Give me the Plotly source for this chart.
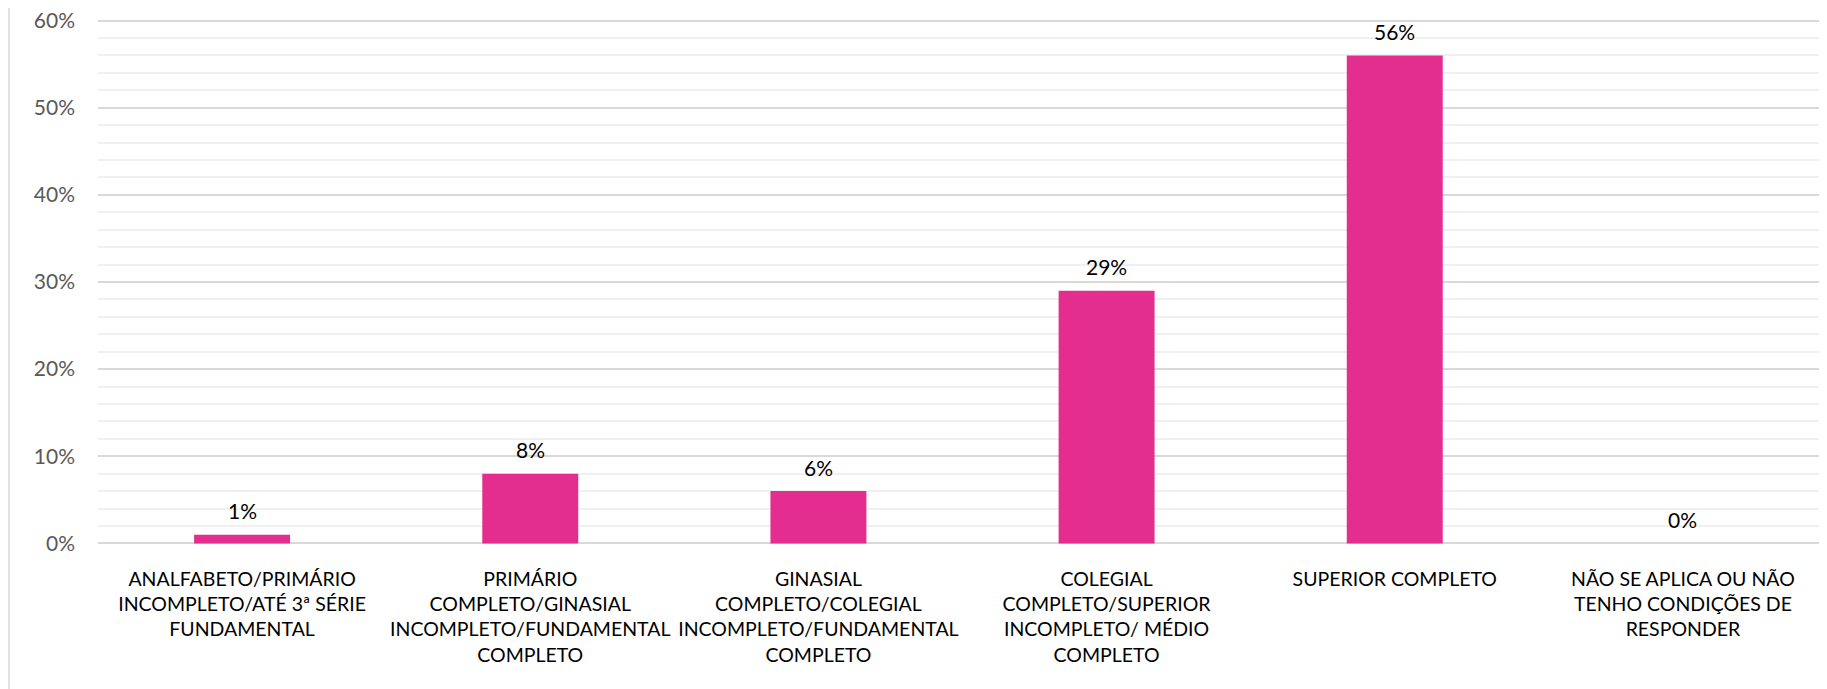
import plotly.graph_objects as go

categories = [
    "ANALFABETO/PRIMÁRIO<br>INCOMPLETO/ATÉ 3ª SÉRIE<br>FUNDAMENTAL",
    "PRIMÁRIO<br>COMPLETO/GINASIAL<br>INCOMPLETO/FUNDAMENTAL<br>COMPLETO",
    "GINASIAL<br>COMPLETO/COLEGIAL<br>INCOMPLETO/FUNDAMENTAL<br>COMPLETO",
    "COLEGIAL<br>COMPLETO/SUPERIOR<br>INCOMPLETO/ MÉDIO<br>COMPLETO",
    "SUPERIOR COMPLETO",
    "NÃO SE APLICA OU NÃO<br>TENHO CONDIÇÕES DE<br>RESPONDER",
]
values = [0.01, 0.08, 0.06, 0.29, 0.56, 0.00]
labels = ["1%", "8%", "6%", "29%", "56%", "0%"]
y_ticks = [0, 0.1, 0.2, 0.3, 0.4, 0.5, 0.6]
y_tick_text = ["0%", "10%", "20%", "30%", "40%", "50%", "60%"]

FONT = "Lato"
BAR = "#E32E90"

fig = go.Figure()
fig.add_trace(go.Bar(
    x=list(range(len(categories))), y=values,
    marker=dict(color=BAR, line=dict(width=0)),
    hoverinfo="skip",
))

for i, (v, t) in enumerate(zip(values, labels)):
    fig.add_annotation(x=i, y=v, text=t, showarrow=False,
                       yanchor="middle", yshift=24,
                       font=dict(family=FONT, size=21, color="#000000"))

# page body has an 8px margin, so the figure is sized/offset to compensate
W, H = 1819, 681
ml, mr, mt, mb = 90, 0, 10, 143
pw, ph = W - ml - mr, H - mt - mb
fig.add_shape(type="line", xref="paper", yref="paper",
              x0=(1 - ml) / pw, x1=(1 - ml) / pw,
              y0=-(mb) / ph, y1=1 + mt / ph,
              line=dict(color="#D9D9D9", width=1.5))

fig.update_layout(
    width=W, height=H,
    margin=dict(l=ml, r=mr, t=mt, b=mb, pad=0, autoexpand=False),
    paper_bgcolor="white", plot_bgcolor="white",
    bargap=0.667, showlegend=False,
    font=dict(family=FONT),
)
fig.update_xaxes(
    tickmode="array", tickvals=list(range(len(categories))), ticktext=categories,
    range=[-0.5, len(categories) - 0.5], tickangle=0, automargin=False,
    tickfont=dict(family=FONT, size=19.5, color="#000000"),
    showgrid=False, zeroline=False, showline=False, ticks="",
    ticklabelstandoff=19,
)
fig.update_yaxes(
    range=[-0.003, 0.603], tickvals=y_ticks, ticktext=y_tick_text, automargin=False,
    tickfont=dict(family=FONT, size=21, color="#595959"),
    ticklabeloverflow="allow",
    showgrid=True, gridcolor="#D9D9D9", gridwidth=1.5,
    minor=dict(tickvals=[i / 50 for i in range(31)], showgrid=True,
               gridcolor="#F0F0F0", gridwidth=1.5),
    zeroline=False, showline=False, ticks="", ticklabelstandoff=22,
)

fig.write_html("out.html")
